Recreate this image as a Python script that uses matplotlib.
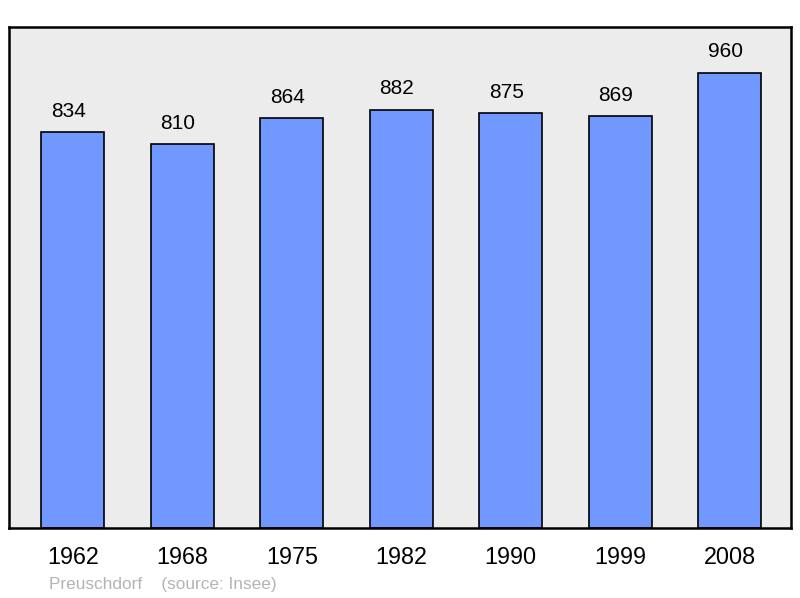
import matplotlib.pyplot as plt

plt.rcParams['font.family'] = ['Liberation Sans', 'DejaVu Sans']

years = ['1962', '1968', '1975', '1982', '1990', '1999', '2008']
population = [834, 810, 864, 882, 875, 869, 960]

fig = plt.figure(figsize=(8, 5.98), dpi=100)
ax = fig.add_axes([9 / 800, 70 / 598, 782 / 800, 501 / 598])
ax.set_facecolor('#ececec')

x = range(len(years))
ax.bar(x, population, width=0.575, color='#7098ff', edgecolor='black', linewidth=1.2)

# value labels sit a little left of the bar centre in the original
for i, v in zip(x, population):
    ax.annotate(str(v), (i, v), xytext=(-3.2, 8), textcoords='offset points',
                ha='center', va='bottom', fontsize=15)

ax.set_xlim(-0.584, 6.56)
ax.set_ylim(0, max(population) * 1.1)
ax.set_yticks([])
ax.set_xticks(list(x))
ax.set_xticklabels(years, fontsize=16.8)
ax.tick_params(axis='x', length=0, pad=13)
for s in ax.spines.values():
    s.set_linewidth(1.8)

fig.text(49 / 800, 1 - 584 / 598, 'Preuschdorf    (source: Insee)', color='#b4b4b4',
         fontsize=12.4, va='center', ha='left')

fig.savefig('out.png', dpi=100)
